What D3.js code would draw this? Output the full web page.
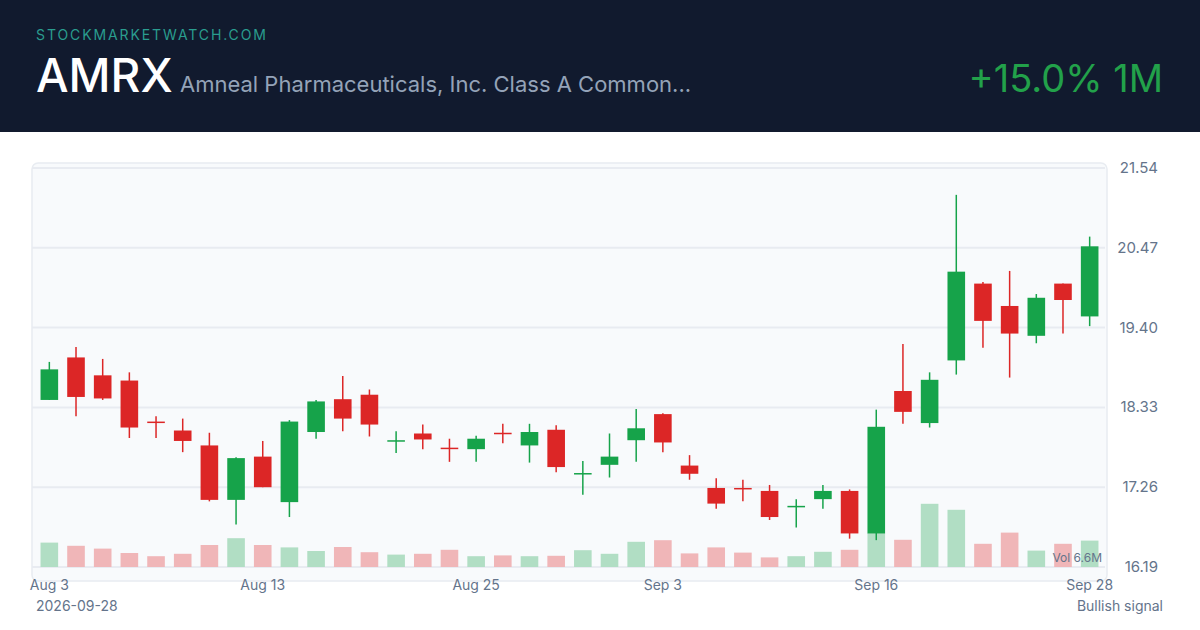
<!DOCTYPE html>
<html><head><meta charset="utf-8">
<script src="https://cdn.jsdelivr.net/npm/d3@7"></script>
<style>body{margin:0;background:#fff;font-family:Inter,"Noto Sans",sans-serif}</style>
</head><body><svg id="c" width="1200" height="630"></svg>
<script>
const dates=["Aug 3","Aug 4","Aug 5","Aug 6","Aug 7","Aug 10","Aug 11","Aug 12","Aug 13","Aug 14","Aug 17","Aug 18","Aug 19","Aug 20","Aug 21","Aug 24","Aug 25","Aug 26","Aug 27","Aug 28","Aug 31","Sep 1","Sep 2","Sep 3","Sep 4","Sep 8","Sep 9","Sep 10","Sep 11","Sep 14","Sep 15","Sep 16","Sep 17","Sep 18","Sep 21","Sep 22","Sep 23","Sep 24","Sep 25","Sep 28"];
const open=[18.43,19.00,18.76,18.69,18.14,18.02,17.82,17.09,17.67,17.06,18.00,18.44,18.50,17.88,17.98,17.79,17.77,17.99,17.82,18.03,17.44,17.56,17.89,18.24,17.55,17.25,17.25,17.21,17.00,17.10,17.21,16.64,18.55,18.12,18.96,19.99,19.69,19.29,19.99,19.55];
const close=[18.84,18.47,18.45,18.06,18.13,17.88,17.09,17.65,17.26,18.14,18.41,18.18,18.10,17.89,17.90,17.78,17.91,17.98,18.00,17.53,17.45,17.67,18.05,17.86,17.44,17.04,17.24,16.86,17.01,17.21,16.64,18.07,18.27,18.70,20.15,19.49,19.32,19.80,19.77,20.49];
const high=[18.94,19.14,18.98,18.80,18.21,18.18,17.99,17.66,17.88,18.16,18.43,18.75,18.57,18.01,18.10,17.91,17.95,18.11,18.11,18.09,17.61,17.98,18.31,18.25,17.69,17.38,17.36,17.29,17.10,17.29,17.23,18.30,19.18,18.80,21.18,20.01,20.16,19.85,19.99,20.62];
const low=[18.43,18.21,18.43,17.92,17.92,17.73,17.07,16.76,17.26,16.86,17.91,18.01,17.94,17.72,17.77,17.60,17.60,17.85,17.59,17.46,17.16,17.39,17.60,17.73,17.36,16.97,17.07,16.82,16.72,16.97,16.57,16.55,18.11,18.06,18.77,19.13,18.73,19.19,19.32,19.42];
const volume=[6.1,5.3,4.6,3.5,2.7,3.3,5.5,7.2,5.5,4.9,4.0,5.0,3.7,3.1,3.3,4.3,2.7,2.9,2.7,2.8,4.2,3.3,6.3,6.7,3.4,4.9,3.6,2.4,2.7,3.8,4.3,8.5,6.8,15.8,14.3,5.8,8.6,4.1,5.8,6.6];
const yTicks=[16.19,17.26,18.33,19.40,20.47,21.54];
const xTickLabels=["Aug 3","Aug 13","Aug 25","Sep 3","Sep 16","Sep 28"];

const svg=d3.select("#c");
const GREEN="#16a34a",RED="#dc2626";
svg.append("rect").attr("width",1200).attr("height",132).attr("fill","#111a2e");
svg.append("text").attr("x",36).attr("y",40).text("STOCKMARKETWATCH.COM").attr("fill","#2a9d8f").attr("font-size",14).attr("letter-spacing",1.9);
svg.append("text").attr("x",36).attr("y",92).text("AMRX").attr("fill","#fff").attr("font-size",46).attr("font-weight",500);
svg.append("text").attr("x",180).attr("y",92).text("Amneal Pharmaceuticals, Inc. Class A Common...").attr("fill","#94a3b8").attr("font-size",22);
svg.append("text").attr("x",1163).attr("y",92).attr("text-anchor","end").text("+15.0% 1M").attr("fill","#22a14a").attr("font-size",38);

svg.append("rect").attr("x",32).attr("y",163).attr("width",1075).attr("height",418).attr("rx",6).attr("fill","#f8fafc").attr("stroke","#e8ecf1").attr("stroke-width",1.5);

const x=d3.scaleBand().domain(dates).range([36,1103]).paddingInner(0.34).paddingOuter(0.17);
const y=d3.scaleLinear().domain([16.19,21.54]).range([567,168]);
const v=d3.scaleLinear().domain([0,25]).range([567,467]);

const grid=svg.append("g");
yTicks.forEach(t=>{
  grid.append("line").attr("x1",32).attr("x2",1105).attr("y1",y(t)).attr("y2",y(t)).attr("stroke","#e8ebf1").attr("stroke-width",2);
  grid.append("text").attr("x",1158).attr("y",y(t)+5).attr("text-anchor","end").text(t.toFixed(2)).attr("fill","#64748b").attr("font-size",15);
});

const idx=d3.range(dates.length);
const col=i=>close[i]>=open[i]?GREEN:RED;
svg.append("g").selectAll("rect").data(idx).join("rect")
  .attr("x",i=>x(dates[i])).attr("width",x.bandwidth())
  .attr("y",i=>v(volume[i])).attr("height",i=>567-v(volume[i]))
  .attr("fill",i=>close[i]>=open[i]?"#b1dec4":"#f0b6b8");
svg.append("text").attr("x",1102).attr("y",562).attr("text-anchor","end").text("Vol 6.6M").attr("fill","#64748b").attr("font-size",12);

const g=svg.append("g");
g.selectAll("line").data(idx).join("line")
  .attr("x1",i=>x(dates[i])+x.bandwidth()/2).attr("x2",i=>x(dates[i])+x.bandwidth()/2)
  .attr("y1",i=>y(high[i])).attr("y2",i=>y(low[i])).attr("stroke",col).attr("stroke-width",1.5);
g.selectAll("rect").data(idx).join("rect")
  .attr("x",i=>x(dates[i])).attr("width",x.bandwidth())
  .attr("y",i=>y(Math.max(open[i],close[i])))
  .attr("height",i=>Math.max(1.5,Math.abs(y(open[i])-y(close[i]))))
  .attr("fill",col);

xTickLabels.forEach(d=>{
  svg.append("text").attr("x",x(d)+x.bandwidth()/2).attr("y",590).attr("text-anchor","middle").text(d).attr("fill","#64748b").attr("font-size",14);
});
svg.append("text").attr("x",36).attr("y",611).text("2026-09-28").attr("fill","#64748b").attr("font-size",14);
svg.append("text").attr("x",1163).attr("y",611).attr("text-anchor","end").text("Bullish signal").attr("fill","#64748b").attr("font-size",14);
</script></body></html>
